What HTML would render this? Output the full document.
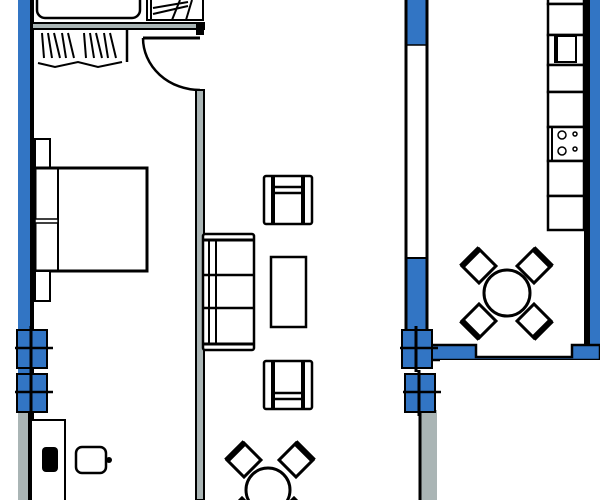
<!DOCTYPE html>
<html><head><style>html,body{margin:0;padding:0;background:#fff;width:600px;height:500px;overflow:hidden}svg{display:block}</style></head>
<body>
<svg width="600" height="500" viewBox="0 0 600 500" xmlns="http://www.w3.org/2000/svg">
<defs>
<g id="chair"><rect x="-12" y="-12" width="24" height="24" fill="#fff" stroke="#000" stroke-width="3"/><line x1="-13" y1="-12" x2="13" y2="-12" stroke="#000" stroke-width="6"/></g>
<g id="win">
<rect x="0" y="0" width="30" height="38" fill="#3275c4" stroke="#000" stroke-width="2"/>
<line x1="14" y1="-4" x2="14" y2="42" stroke="#000" stroke-width="3"/>
<line x1="-2" y1="18" x2="36" y2="18" stroke="#000" stroke-width="2.5"/>
</g>
</defs>
<!-- left outer wall -->
<rect x="18" y="0" width="13" height="410" fill="#3275c4"/>
<rect x="18" y="410" width="11" height="90" fill="#aab5b5"/>
<rect x="30" y="0" width="4" height="500" fill="#000"/>
<rect x="28" y="410" width="3" height="90" fill="#000"/>
<use href="#win" x="17" y="330"/>
<use href="#win" x="17" y="374"/>
<!-- bathtub -->
<rect x="37" y="-10" width="103" height="28" rx="8" fill="#fff" stroke="#000" stroke-width="2.5"/>
<rect x="147" y="-2" width="56" height="22" fill="#fff" stroke="#000" stroke-width="2"/>
<line x1="153" y1="14" x2="188" y2="6" stroke="#000" stroke-width="2"/>
<line x1="153" y1="8" x2="188" y2="2" stroke="#000" stroke-width="2"/>
<line x1="180" y1="0" x2="172" y2="20" stroke="#000" stroke-width="2"/>
<line x1="192" y1="0" x2="186" y2="20" stroke="#000" stroke-width="2"/>
<line x1="151" y1="0" x2="151" y2="20" stroke="#000" stroke-width="2"/>
<!-- wall below bath -->
<rect x="32" y="23" width="172" height="6" fill="#aab5b5" stroke="#000" stroke-width="2"/>
<rect x="196" y="23" width="8" height="12" fill="#000"/>
<line x1="143" y1="38" x2="200" y2="38" stroke="#000" stroke-width="3"/>
<path d="M143 38 A57 52 0 0 0 200 90" fill="none" stroke="#000" stroke-width="2.5"/>
<!-- closet -->
<line x1="127" y1="29" x2="127" y2="62" stroke="#000" stroke-width="2.5"/>
<g stroke="#000" stroke-width="2">
<line x1="42" y1="33" x2="44" y2="58"/><line x1="48" y1="33" x2="52" y2="58"/><line x1="54" y1="33" x2="60" y2="58"/><line x1="62" y1="33" x2="66" y2="58"/><line x1="68" y1="33" x2="74" y2="58"/>
<line x1="84" y1="33" x2="86" y2="58"/><line x1="90" y1="33" x2="94" y2="58"/><line x1="96" y1="33" x2="102" y2="58"/><line x1="104" y1="33" x2="108" y2="58"/><line x1="110" y1="33" x2="116" y2="58"/>
<path d="M38 63 L55 67 L78 62 L98 67 L122 62" fill="none"/>
</g>
<!-- inner partition wall -->
<rect x="196" y="90" width="8" height="410" fill="#aab5b5" stroke="#000" stroke-width="2"/>
<!-- bed -->
<rect x="35" y="139" width="15" height="29" fill="#fff" stroke="#000" stroke-width="2"/>
<rect x="35" y="168" width="112" height="103" fill="#fff" stroke="#000" stroke-width="3"/>
<line x1="58" y1="168" x2="58" y2="271" stroke="#000" stroke-width="2"/>
<rect x="35" y="219" width="23" height="4" fill="#fff" stroke="#000" stroke-width="1.5"/>
<rect x="35" y="271" width="15" height="30" fill="#fff" stroke="#000" stroke-width="2"/>
<!-- desk -->
<rect x="31" y="420" width="34" height="82" fill="#fff" stroke="#000" stroke-width="2"/>
<rect x="42" y="447" width="16" height="25" rx="4" fill="#000"/>
<rect x="76" y="447" width="30" height="26" rx="6" fill="#fff" stroke="#000" stroke-width="2.5"/>
<circle cx="109" cy="460" r="3" fill="#000"/>
<!-- living furniture -->
<g fill="#fff" stroke="#000" stroke-width="2.5">
<rect x="264" y="176" width="48" height="48" rx="2"/>
<line x1="273" y1="176" x2="273" y2="224" stroke-width="4"/><line x1="303" y1="176" x2="303" y2="224" stroke-width="4"/>
<line x1="273" y1="187" x2="303" y2="187"/><line x1="273" y1="193" x2="303" y2="193"/>
<rect x="264" y="361" width="48" height="48" rx="2"/>
<line x1="273" y1="361" x2="273" y2="409" stroke-width="4"/><line x1="303" y1="361" x2="303" y2="409" stroke-width="4"/>
<line x1="273" y1="393" x2="303" y2="393"/><line x1="273" y1="399" x2="303" y2="399"/>
<rect x="203" y="234" width="51" height="116" rx="2"/>
<line x1="203" y1="240" x2="254" y2="240" stroke-width="3"/><line x1="203" y1="344" x2="254" y2="344" stroke-width="3"/>
<line x1="203" y1="275" x2="254" y2="275"/><line x1="203" y1="308" x2="254" y2="308"/>
<line x1="209" y1="240" x2="209" y2="344" stroke-width="2"/><line x1="216" y1="240" x2="216" y2="344" stroke-width="2"/>
<rect x="271" y="257" width="35" height="70"/>
</g>
<!-- living dining -->
<use href="#chair" transform="translate(244,460) rotate(-45)"/>
<use href="#chair" transform="translate(296,460) rotate(45)"/>
<circle cx="268" cy="490" r="22" fill="#fff" stroke="#000" stroke-width="3"/>
<use href="#chair" transform="translate(242,515) rotate(-135)"/>
<use href="#chair" transform="translate(294,515) rotate(135)"/>
<!-- kitchen left wall -->
<rect x="406" y="0" width="20" height="45" fill="#3275c4"/>
<rect x="406" y="258" width="20" height="75" fill="#3275c4"/>
<line x1="406" y1="0" x2="406" y2="340" stroke="#000" stroke-width="3"/>
<line x1="427" y1="0" x2="427" y2="340" stroke="#000" stroke-width="3"/>
<line x1="406" y1="45" x2="427" y2="45" stroke="#000" stroke-width="1.5"/>
<line x1="406" y1="258" x2="427" y2="258" stroke="#000" stroke-width="2"/>
<!-- right wall -->
<rect x="590" y="0" width="10" height="345" fill="#3275c4"/>
<rect x="584" y="0" width="6" height="350" fill="#000"/>
<!-- cabinets -->
<g fill="#fff" stroke="#000" stroke-width="2.5">
<rect x="548" y="-5" width="36" height="9"/>
<rect x="548" y="4" width="36" height="31"/>
<rect x="548" y="35" width="36" height="30"/>
<rect x="548" y="65" width="36" height="27"/>
<rect x="548" y="92" width="36" height="35"/>
<rect x="548" y="127" width="36" height="34"/>
<rect x="548" y="161" width="36" height="35"/>
<rect x="548" y="196" width="36" height="34"/>
</g>
<rect x="555" y="36" width="21" height="26" fill="#fff" stroke="#000" stroke-width="2"/>
<line x1="556" y1="36" x2="556" y2="62" stroke="#000" stroke-width="4"/>
<g fill="#fff" stroke="#000" stroke-width="1.5">
<circle cx="562" cy="135" r="4"/><circle cx="562" cy="151" r="4"/><circle cx="575" cy="134" r="2"/><circle cx="575" cy="149" r="2"/>
</g>
<line x1="552" y1="128" x2="552" y2="160" stroke="#000" stroke-width="2"/>
<!-- kitchen dining -->
<use href="#chair" transform="translate(479,266) rotate(-45)"/>
<use href="#chair" transform="translate(534,266) rotate(45)"/>
<use href="#chair" transform="translate(479,321) rotate(-135)"/>
<use href="#chair" transform="translate(534,321) rotate(135)"/>
<circle cx="507" cy="293" r="23" fill="#fff" stroke="#000" stroke-width="3"/>
<!-- bottom kitchen wall -->
<path d="M427 345 L476 345 L476 357 L572 357 L572 345 L600 345 L600 360 L427 360 Z" fill="#3275c4" stroke="#000" stroke-width="2.5"/>
<rect x="440" y="360" width="160" height="140" fill="#fff"/>
<rect x="420" y="410" width="17" height="90" fill="#aab5b5"/>
<line x1="420" y1="410" x2="420" y2="500" stroke="#000" stroke-width="3"/>
<use href="#win" x="402" y="330"/>
<use href="#win" x="405" y="374"/>
</svg>
</body></html>
